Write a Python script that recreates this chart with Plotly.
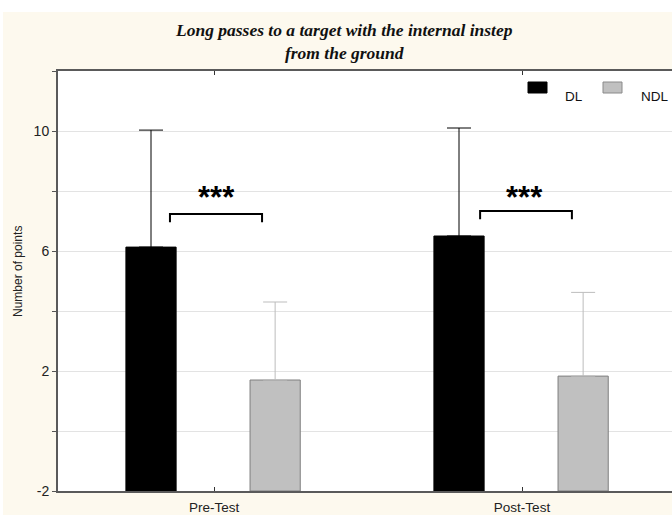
import plotly.graph_objects as go

# ---- data ----
categories = ["Pre-Test", "Post-Test"]
series_names = ["DL", "NDL"]
dl_mean = [6.13, 6.50]
dl_err = [3.90, 3.60]
ndl_mean = [1.70, 1.83]
ndl_err = [2.60, 2.79]
sig_labels = ["***", "***"]
y_tick_vals = [-2, 2, 6, 10]
y_tick_text = ["-2", "2", "6", "10"]
title_text = "Long passes to a target with the internal instep<br>from the ground"
y_title = "Number of points"

# ---- layout constants (pixels) ----
W, H = 672, 515
L, R, T, B = 58, 0, 71, 24
PW, PH = W - L - R, H - T - B
Y0, Y1 = -2, 12
BASE = Y0

def px2paper_x(px):
    return (px - L) / PW

def px2paper_y(py):
    return (H - B - py) / PH

cream = "#FDF9EE"
font_sans = "Liberation Sans, Arial, sans-serif"

fig = go.Figure()
x_idx = list(range(len(categories)))

fig.add_trace(go.Bar(
    name=series_names[0], x=x_idx, y=[v - BASE for v in dl_mean], base=BASE,
    width=0.163, offset=-0.286,
    marker=dict(color="black", line=dict(color="black", width=1)),
    error_y=dict(type="data", symmetric=False, array=dl_err, arrayminus=[0] * len(dl_err),
                 color="black", thickness=1, width=12),
    showlegend=False,
))
fig.add_trace(go.Bar(
    name=series_names[1], x=x_idx, y=[v - BASE for v in ndl_mean], base=BASE,
    width=0.163, offset=0.117,
    marker=dict(color="#C0C0C0", line=dict(color="#7F7F7F", width=1)),
    error_y=dict(type="data", symmetric=False, array=ndl_err, arrayminus=[0] * len(ndl_err),
                 color="#BDBDBD", thickness=1, width=12),
    showlegend=False,
))

shapes = []
annotations = []

# significance brackets
br_left = [-0.143, -0.136]
br_right = [0.156, 0.162]
br_y = [7.23, 7.33]
for i, lab in enumerate(sig_labels):
    shapes.append(dict(
        type="path", xref="x", yref="y", layer="above",
        path=f"M {i + br_left[i]},{br_y[i] - 0.27} L {i + br_left[i]},{br_y[i]} "
             f"L {i + br_right[i]},{br_y[i]} L {i + br_right[i]},{br_y[i] - 0.27}",
        line=dict(color="black", width=2),
    ))
    annotations.append(dict(
        x=i + 0.008, y=7.78, xref="x", yref="y", text=f"<b>{lab}</b>",
        showarrow=False, xanchor="center", yanchor="middle",
        font=dict(family=font_sans, size=31, color="black"),
    ))

# legend (manual)
legend_items = [
    (series_names[0], "black", "black", 528, 547, 564),
    (series_names[1], "#C0C0C0", "#8A8A8A", 603, 622, 640),
]
for name, fill, edge, x0, x1, tx in legend_items:
    shapes.append(dict(
        type="rect", xref="paper", yref="paper", layer="above",
        x0=px2paper_x(x0), x1=px2paper_x(x1), y0=px2paper_y(93), y1=px2paper_y(82),
        fillcolor=fill, line=dict(color=edge, width=1),
    ))
    annotations.append(dict(
        x=px2paper_x(tx - 1), y=px2paper_y(96), xref="paper", yref="paper", text=name,
        showarrow=False, xanchor="left", yanchor="middle",
        font=dict(family=font_sans, size=13.5, color="#111111"),
    ))

# white strips at top/left edges of the image
shapes.append(dict(type="rect", xref="paper", yref="paper", layer="above",
                   x0=px2paper_x(0), x1=px2paper_x(W), y0=px2paper_y(12), y1=px2paper_y(0),
                   fillcolor="white", line=dict(width=0)))
shapes.append(dict(type="rect", xref="paper", yref="paper", layer="above",
                   x0=px2paper_x(0), x1=px2paper_x(3), y0=px2paper_y(H), y1=px2paper_y(0),
                   fillcolor="white", line=dict(width=0)))

# title
annotations.append(dict(
    x=px2paper_x(344), y=px2paper_y(41.5), xref="paper", yref="paper",
    text=f"<b><i>{title_text}</i></b>", showarrow=False,
    xanchor="center", yanchor="middle", align="center",
    font=dict(family="Liberation Serif, Times New Roman, serif", size=17.5, color="#111111"),
))
# y-axis title
annotations.append(dict(
    x=px2paper_x(18), y=px2paper_y(272), xref="paper", yref="paper",
    text=y_title, showarrow=False, textangle=-90,
    xanchor="center", yanchor="middle",
    font=dict(family=font_sans, size=12, color="#222222"),
))

fig.update_layout(
    width=W, height=H,
    margin=dict(l=L, r=R, t=T, b=B, pad=0),
    paper_bgcolor=cream, plot_bgcolor="white",
    barmode="overlay",
    shapes=shapes, annotations=annotations,
    font=dict(family=font_sans, size=12, color="#222222"),
    xaxis=dict(
        range=[(L - 214) / 308, (W - 214) / 308],
        tickvals=x_idx, ticktext=categories,
        ticks="inside", ticklen=4, tickcolor="#333333", tickwidth=1,
        showline=True, linecolor="#5A5A5A", linewidth=2, mirror="ticks",
        showgrid=False, zeroline=False,
        tickfont=dict(family=font_sans, size=13.5, color="#222222"),
        ticklabelstandoff=3,
    ),
    yaxis=dict(
        range=[Y0, Y1],
        tickvals=y_tick_vals, ticktext=y_tick_text,
        ticks="outside", ticklen=4, tickcolor="#555555",
        showline=True, linecolor="#5A5A5A", linewidth=2, mirror=False,
        showgrid=True, gridcolor="#E3E3E3", gridwidth=1,
        zeroline=False,
        minor=dict(dtick=2, showgrid=True, gridcolor="#E3E3E3", ticks="outside",
                   ticklen=4, tickcolor="#555555"),
        tickfont=dict(family=font_sans, size=14, color="#222222"),
    ),
)

fig.write_html(
    "out.html",
    config={"displayModeBar": False},
    post_script="document.body.style.margin='0';document.body.style.overflow='hidden';",
)
